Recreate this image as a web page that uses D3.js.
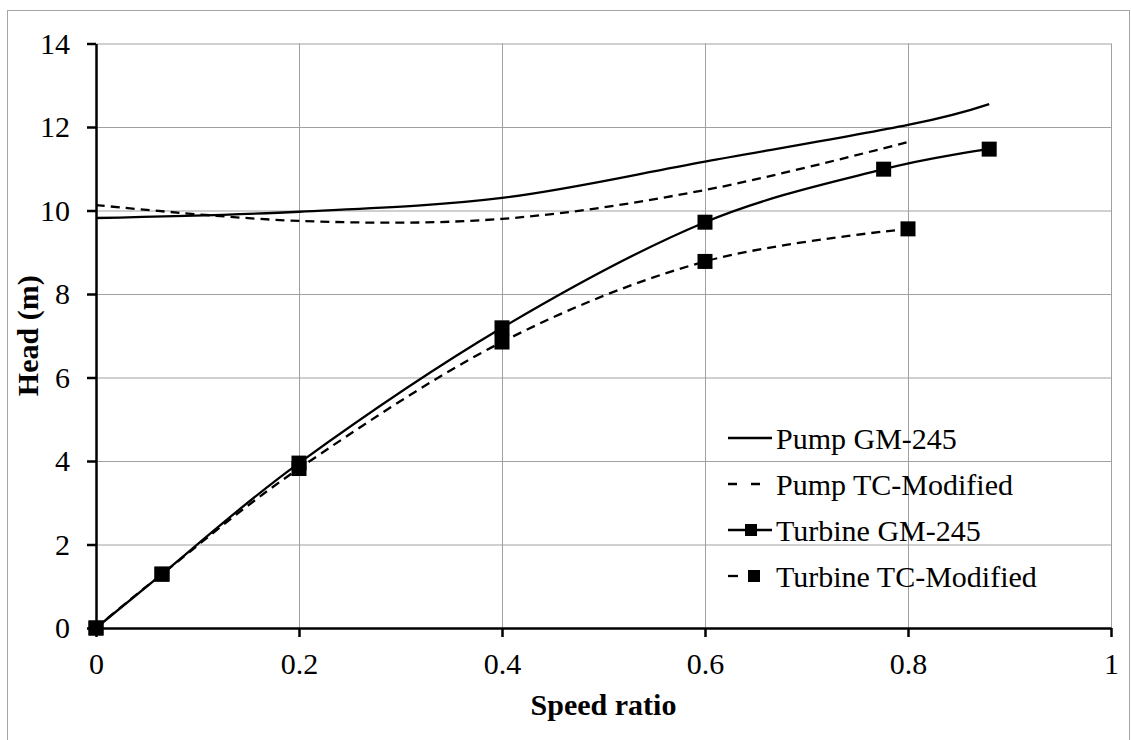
<!DOCTYPE html>
<html>
<head>
<meta charset="utf-8">
<script src="https://cdn.jsdelivr.net/npm/d3@7"></script>
<style>
  body { margin: 0; background: #fff; }
  text { font-family: "Liberation Serif", "Times New Roman", serif; }
</style>
</head>
<body>
<div id="container"></div>
<script>
/* CONSTANTS AND GLOBALS */
const width = 1131,
  height = 740,
  margin = { top: 43.5, right: 20, bottom: 112, left: 96 };

/* DATA */
const xTicks = [0, 0.2, 0.4, 0.6, 0.8, 1];
const yTicks = [0, 2, 4, 6, 8, 10, 12, 14];

const pumpGmX = [0, 0.2, 0.4, 0.6, 0.8, 0.88];
const pumpGmY = [9.82, 9.97, 10.3, 11.17, 12.05, 12.55];

const pumpTcX = [0, 0.2, 0.4, 0.6, 0.8];
const pumpTcY = [10.13, 9.75, 9.8, 10.49, 11.64];

const turbineGmX = [0, 0.065, 0.2, 0.4, 0.6, 0.776, 0.88];
const turbineGmY = [0, 1.29, 3.95, 7.19, 9.72, 10.99, 11.47];

const turbineTcX = [0, 0.065, 0.2, 0.4, 0.6, 0.8];
const turbineTcY = [0, 1.29, 3.82, 6.85, 8.78, 9.56];

const seriesNames = ["Pump GM-245", "Pump TC-Modified", "Turbine GM-245", "Turbine TC-Modified"];

const zip = (xs, ys) => xs.map((x, i) => ({ x: x, y: ys[i] }));

const series = [
  { name: seriesNames[0], values: zip(pumpGmX, pumpGmY), dash: null, markers: false },
  { name: seriesNames[1], values: zip(pumpTcX, pumpTcY), dash: "9,6", markers: false },
  { name: seriesNames[2], values: zip(turbineGmX, turbineGmY), dash: null, markers: true },
  { name: seriesNames[3], values: zip(turbineTcX, turbineTcY), dash: "9,6", markers: true }
];

const fontSize = "30px";

/* INIT */
const svg = d3.select("#container").append("svg")
  .attr("width", width)
  .attr("height", height);

// outer frame
svg.append("rect")
  .attr("x", 7.5).attr("y", 10.5)
  .attr("width", 1122).attr("height", 740)
  .attr("fill", "none")
  .attr("stroke", "#a6a6a6")
  .attr("stroke-width", 1);

const xScale = d3.scaleLinear()
  .domain([0, 1])
  .range([margin.left, width - margin.right]);

const yScale = d3.scaleLinear()
  .domain([0, 14])
  .range([height - margin.bottom, margin.top]);

// gridlines
svg.append("g")
  .attr("class", "x-grid")
  .attr("transform", `translate(0,${yScale(0)})`)
  .call(d3.axisBottom(xScale).tickValues(xTicks.slice(1)).tickSize(-(yScale(0) - yScale(14))).tickFormat(""))
  .call(g => g.select(".domain").remove())
  .call(g => g.selectAll("line").attr("stroke", "#a0a0a0").attr("stroke-width", 1));

svg.append("g")
  .attr("class", "y-grid")
  .attr("transform", `translate(${xScale(0)},0)`)
  .call(d3.axisLeft(yScale).tickValues(yTicks.slice(1)).tickSize(-(xScale(1) - xScale(0))).tickFormat(""))
  .call(g => g.select(".domain").remove())
  .call(g => g.selectAll("line").attr("stroke", "#a0a0a0").attr("stroke-width", 1));

// axes
const xAxis = d3.axisBottom(xScale)
  .tickValues(xTicks)
  .tickFormat(d => d)
  .tickSize(9)
  .tickSizeOuter(0)
  .tickPadding(16);

const yAxis = d3.axisLeft(yScale)
  .tickValues(yTicks)
  .tickFormat(d => d)
  .tickSize(9)
  .tickSizeOuter(0)
  .tickPadding(17);

svg.append("g")
  .attr("class", "x-axis")
  .attr("transform", `translate(0,${yScale(0)})`)
  .call(xAxis);

svg.append("g")
  .attr("class", "y-axis")
  .attr("transform", `translate(${xScale(0)},0)`)
  .call(yAxis);

svg.selectAll(".x-axis, .y-axis")
  .call(g => g.selectAll(".domain, line").attr("stroke", "#000").attr("stroke-width", 2.5))
  .call(g => g.selectAll("text")
    .attr("fill", "#000")
    .style("font-family", '"Liberation Serif", serif')
    .style("font-size", fontSize));

// axis titles
svg.append("text")
  .attr("x", (xScale(0) + xScale(1)) / 2)
  .attr("y", 715)
  .attr("text-anchor", "middle")
  .style("font-size", fontSize)
  .style("font-weight", "bold")
  .text("Speed ratio");

svg.append("text")
  .attr("transform", `translate(38,${(yScale(0) + yScale(14)) / 2}) rotate(-90)`)
  .attr("text-anchor", "middle")
  .style("font-size", fontSize)
  .style("font-weight", "bold")
  .text("Head (m)");

/* DRAW */
const line = d3.line()
  .x(d => xScale(d.x))
  .y(d => yScale(d.y))
  .curve(d3.curveCardinal.tension(0));

svg.selectAll(".series")
  .data(series)
  .join("path")
  .attr("class", "series")
  .attr("fill", "none")
  .attr("stroke", "#000")
  .attr("stroke-width", 2.3)
  .attr("stroke-dasharray", d => d.dash)
  .attr("d", d => line(d.values));

const mSize = 15;
svg.selectAll(".marker-group")
  .data(series.filter(d => d.markers))
  .join("g")
  .attr("class", "marker-group")
  .selectAll("rect")
  .data(d => d.values)
  .join("rect")
  .attr("x", d => xScale(d.x) - mSize / 2)
  .attr("y", d => yScale(d.y) - mSize / 2)
  .attr("width", mSize)
  .attr("height", mSize)
  .attr("fill", "#000");

// legend
const legendX = 728,
  legendY = 438,
  legendStep = 46;

const legend = svg.selectAll(".legend-item")
  .data(series)
  .join("g")
  .attr("class", "legend-item")
  .attr("transform", (d, i) => `translate(${legendX},${legendY + i * legendStep})`);

legend.append("line")
  .attr("x1", 0)
  .attr("x2", d => d.dash ? 32 : 44)
  .attr("y1", 0).attr("y2", 0)
  .attr("stroke", "#000")
  .attr("stroke-width", 2.3)
  .attr("stroke-dasharray", (d, i) => d.dash ? (i === 1 ? "9,14" : "10,40") : null);

legend.filter(d => d.markers)
  .append("rect")
  .attr("x", (d, i) => (i === 0 ? 23 : 26) - 6)
  .attr("y", -6)
  .attr("width", 12)
  .attr("height", 12)
  .attr("fill", "#000");

legend.append("text")
  .attr("x", 48)
  .attr("y", 11)
  .style("font-size", fontSize)
  .attr("fill", "#000")
  .text(d => d.name);
</script>
</body>
</html>
